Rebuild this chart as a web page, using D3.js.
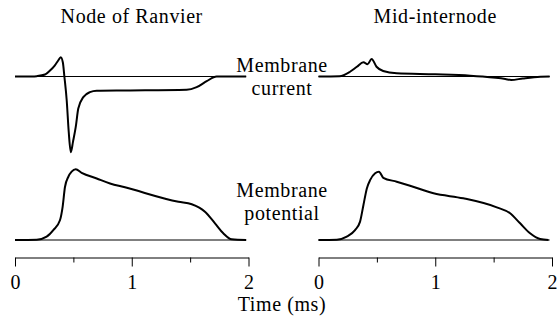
<!DOCTYPE html>
<html>
<head>
<meta charset="utf-8">
<script src="https://cdn.jsdelivr.net/npm/d3@7"></script>
<style>
  html, body { margin: 0; padding: 0; background: #fff; }
  svg { display: block; }
</style>
</head>
<body>
<svg id="chart" width="557" height="320"></svg>
<script>
// ---- Data (time in ms; current normalised to peak inward = -1; potential in % of peak) ----
const panelTitles = ["Node of Ranvier", "Mid-internode"];
const majorTicks = [0, 1, 2];
const minorTicks = [0.5, 1.5];
const rowLabelsCurrent = ["Membrane", "current"];
const rowLabelsPotential = ["Membrane", "potential"];
const axisLabel = "Time (ms)";
const baselineSpan = [0, 1.98];

const nodeCurrentT = [0, 0.15, 0.186, 0.257, 0.30, 0.34, 0.37, 0.392, 0.41, 0.423, 0.443, 0.46, 0.478, 0.497, 0.52, 0.542, 0.585, 0.642, 0.70, 0.957, 1.47, 1.556, 1.642, 1.727, 1.98];
const nodeCurrentV = [0, 0, 0.004, 0.026, 0.079, 0.145, 0.211, 0.255, 0.185, 0, -0.317, -0.727, -1.0, -0.86, -0.67, -0.423, -0.273, -0.207, -0.189, -0.185, -0.176, -0.141, -0.062, 0, 0];

const midCurrentT = [0, 0.18, 0.27, 0.329, 0.385, 0.42, 0.455, 0.497, 0.554, 0.67, 1.0, 1.3, 1.4, 1.6, 1.65, 1.75, 1.9, 1.98];
const midCurrentV = [0, 0.004, 0.063, 0.129, 0.188, 0.161, 0.231, 0.129, 0.073, 0.042, 0.029, 0.011, 0, -0.033, -0.046, -0.026, -0.003, 0];

const nodePotentialT = [0, 0.186, 0.271, 0.328, 0.385, 0.408, 0.428, 0.457, 0.485, 0.52, 0.571, 0.7, 0.814, 0.942, 1.4, 1.514, 1.627, 1.713, 1.784, 1.856, 1.98];
const nodePotentialV = [0, 0.3, 4.7, 14, 28, 47, 75, 89.5, 96.6, 100, 95, 87, 80, 74.5, 54, 50.5, 40, 23.6, 9.5, 1, 0];

const midPotentialT = [0, 0.157, 0.242, 0.313, 0.356, 0.385, 0.414, 0.443, 0.485, 0.518, 0.555, 0.67, 0.784, 0.985, 1.24, 1.527, 1.641, 1.727, 1.812, 1.898, 1.97];
const midPotentialV = [0, 0.3, 4.7, 14, 26, 49.5, 73, 85, 94.3, 96.6, 88, 82.5, 76.8, 66, 59, 46.2, 37.8, 23.6, 9.5, 1.4, 0];

// ---- Layout ----
const FONT = "Liberation Serif";
const FS = 20;
const LS = 0.6;
const svg = d3.select("#chart");
const xLeft = d3.scaleLinear().domain([0, 2]).range([15, 248.5]);
const xRight = d3.scaleLinear().domain([0, 2]).range([318.5, 552]);
const yCurrent = d3.scaleLinear().domain([-1, 0]).range([152.2, 76.5]);
const yPotential = d3.scaleLinear().domain([0, 100]).range([240, 169.3]);

const panels = [
  { x: xLeft, title: panelTitles[0], cur: [nodeCurrentT, nodeCurrentV], pot: [nodePotentialT, nodePotentialV] },
  { x: xRight, title: panelTitles[1], cur: [midCurrentT, midCurrentV], pot: [midPotentialT, midPotentialV] }
];

function zip(ts, vs) { return ts.map((t, i) => [t, vs[i]]); }
function label(x, y, s) {
  return svg.append("text").attr("x", x).attr("y", y).attr("text-anchor", "middle")
    .attr("font-family", FONT).attr("font-size", FS).attr("letter-spacing", LS)
    .attr("fill", "#000").text(s);
}

panels.forEach(p => {
  const x = p.x;
  const cx = (x.range()[0] + x.range()[1]) / 2;
  label(cx, 23, p.title);

  // baselines
  svg.append("line")
    .attr("x1", x(baselineSpan[0])).attr("x2", x(baselineSpan[1]))
    .attr("y1", yCurrent(0)).attr("y2", yCurrent(0))
    .attr("stroke", "#000").attr("stroke-width", 1);
  svg.append("line")
    .attr("x1", x(baselineSpan[0])).attr("x2", x(baselineSpan[1]))
    .attr("y1", yPotential(0)).attr("y2", yPotential(0))
    .attr("stroke", "#000").attr("stroke-width", 1);

  const lineCur = d3.line().x(d => x(d[0])).y(d => yCurrent(d[1])).curve(d3.curveMonotoneX);
  const linePot = d3.line().x(d => x(d[0])).y(d => yPotential(d[1])).curve(d3.curveMonotoneX);

  svg.append("path").attr("d", lineCur(zip(p.cur[0], p.cur[1])))
    .attr("fill", "none").attr("stroke", "#000").attr("stroke-width", 2)
    .attr("stroke-linejoin", "round");
  svg.append("path").attr("d", linePot(zip(p.pot[0], p.pot[1])))
    .attr("fill", "none").attr("stroke", "#000").attr("stroke-width", 2)
    .attr("stroke-linejoin", "round");

  // axes
  const gMajor = svg.append("g").attr("transform", "translate(0,257.5)")
    .call(d3.axisBottom(x).tickValues(majorTicks).tickSize(9).tickSizeOuter(0)
      .tickPadding(8).tickFormat(d3.format("d")));
  const gMinor = svg.append("g").attr("transform", "translate(0,257.5)")
    .call(d3.axisBottom(x).tickValues(minorTicks).tickSize(5).tickSizeOuter(0).tickFormat(""));
  [gMajor, gMinor].forEach(g => {
    g.attr("font-family", FONT).attr("font-size", FS);
    g.select(".domain").attr("stroke", "#000").attr("stroke-width", 1);
    g.selectAll(".tick line").attr("stroke", "#000").attr("stroke-width", 1);
    g.selectAll(".tick text").attr("font-size", FS)
      .attr("font-family", FONT).attr("fill", "#000");
  });
  gMinor.select(".domain").remove();
});

// row labels
const mid = 282;
label(mid, 72, rowLabelsCurrent[0]);
label(mid, 94.5, rowLabelsCurrent[1]);
label(mid, 197, rowLabelsPotential[0]);
label(mid, 219.5, rowLabelsPotential[1]);
label(mid, 311, axisLabel);
</script>
</body>
</html>
